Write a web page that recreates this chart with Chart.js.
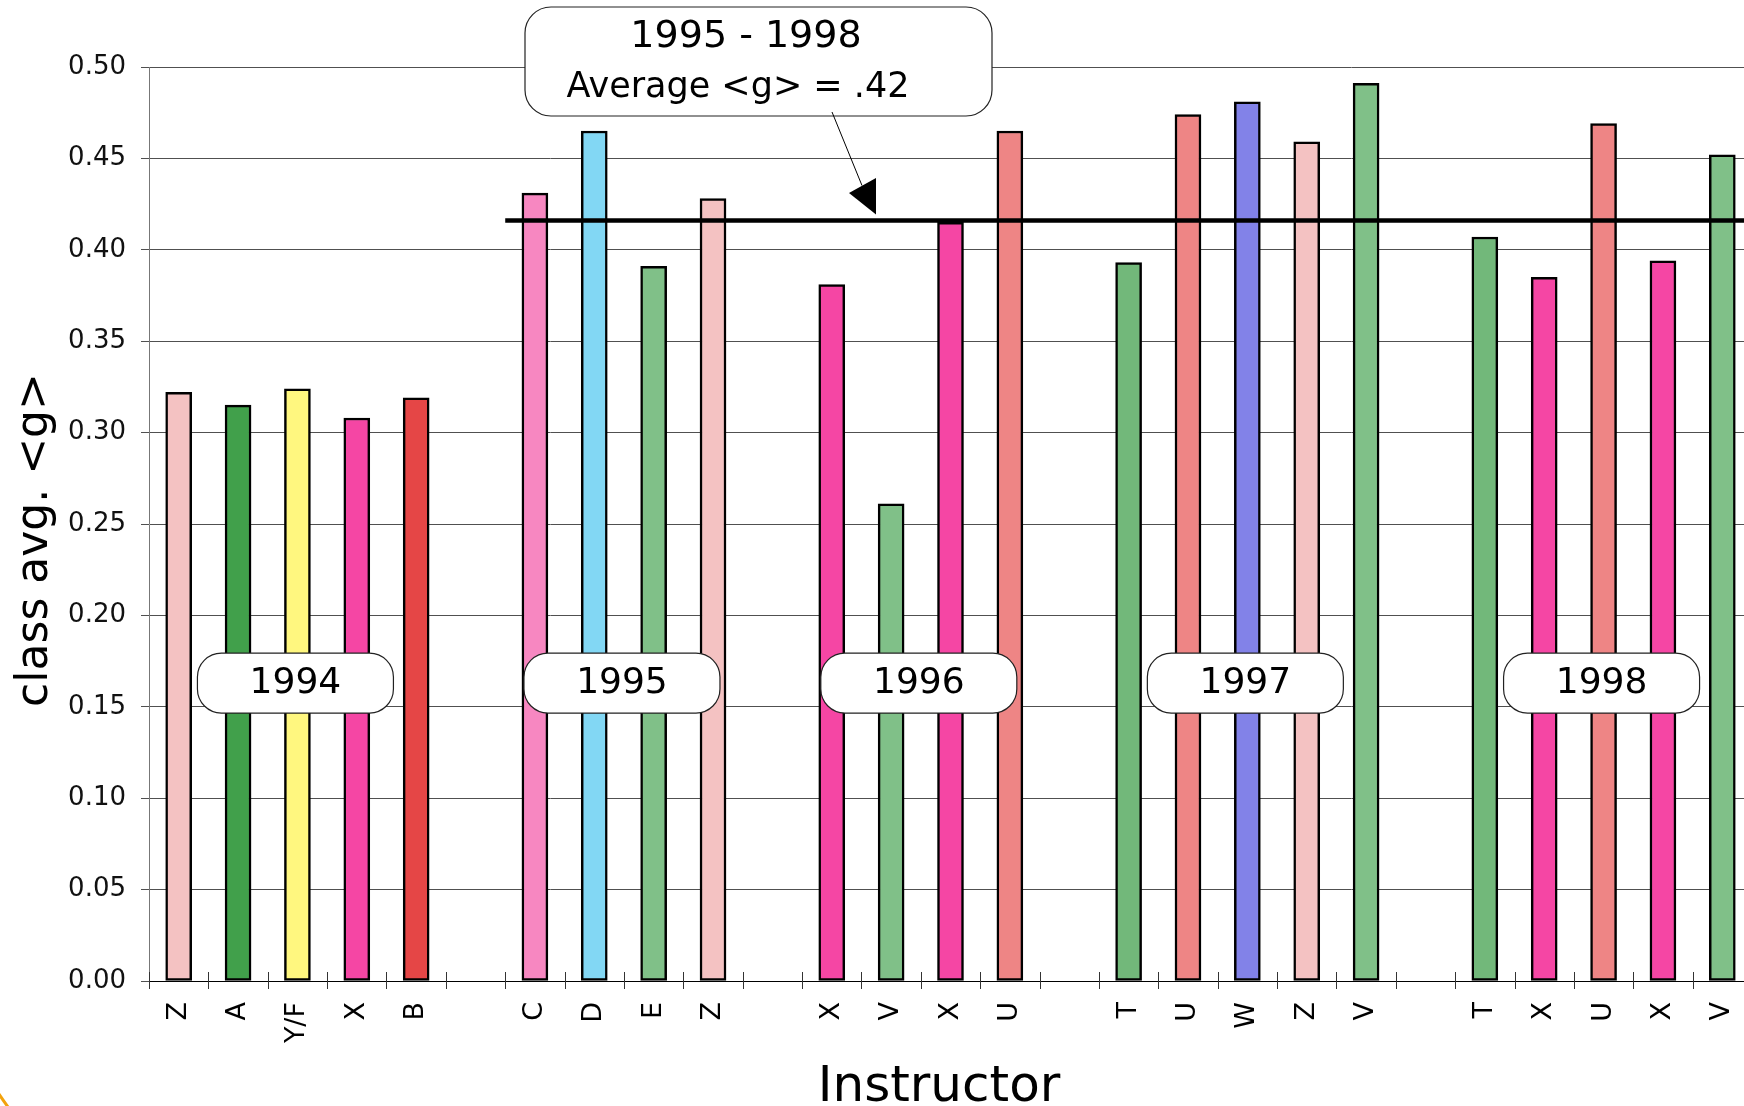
<!DOCTYPE html>
<html>
<head>
<meta charset="utf-8">
<title>Class average normalized gain by instructor</title>
<script src="https://cdn.jsdelivr.net/npm/chart.js@4.4.1/dist/chart.umd.min.js"></script>
<style>
  html, body { margin: 0; padding: 0; background: #fff; overflow: hidden; width: 1744px; height: 1106px; }
  #wrap { position: absolute; left: 0; top: 0; width: 1752px; height: 1106px; }
  canvas { display: block; }
</style>
</head>
<body>
<div id="wrap"><canvas id="gainChart" width="1752" height="1106"></canvas></div>
<script>
// Class-average normalized gain <g> for each instructor, grouped by year
const years = ['1994', '1995', '1996', '1997', '1998'];

const instructors1994 = ['Z', 'A', 'Y/F', 'X', 'B'];
const gain1994        = [0.322, 0.315, 0.324, 0.308, 0.319];

const instructors1995 = ['C', 'D', 'E', 'Z'];
const gain1995        = [0.431, 0.465, 0.391, 0.428];

const instructors1996 = ['X', 'V', 'X', 'U'];
const gain1996        = [0.381, 0.261, 0.415, 0.465];

const instructors1997 = ['T', 'U', 'W', 'Z', 'V'];
const gain1997        = [0.393, 0.474, 0.481, 0.459, 0.491];

const instructors1998 = ['T', 'X', 'U', 'X', 'V'];
const gain1998        = [0.407, 0.385, 0.469, 0.394, 0.452];

// y-axis tick values
const yTickValues = [0.00, 0.05, 0.10, 0.15, 0.20, 0.25, 0.30, 0.35, 0.40, 0.45, 0.50];

// overall average over the later years
const averageYears = ['1995', '1998'];
const averageGain = 0.416;

// one fill colour per instructor
const instructorColors = {
  'Z': '#F4C2C2', 'A': '#41A04B', 'Y/F': '#FFF77F', 'X': '#F546A4', 'B': '#E54646',
  'C': '#F787C1', 'D': '#82D7F4', 'E': '#80C088', 'V': '#80C088', 'U': '#EE8585',
  'T': '#72B87A', 'W': '#8282E8'
};

// build the category axis: each year group followed by an empty slot
const groups = [
  [instructors1994, gain1994], [instructors1995, gain1995], [instructors1996, gain1996],
  [instructors1997, gain1997], [instructors1998, gain1998]
];
const labels = [], values = [], colors = [], groupRanges = [];
groups.forEach(([names, gains], gi) => {
  const start = labels.length;
  names.forEach((n, i) => { labels.push(n); values.push(gains[i]); colors.push(instructorColors[n]); });
  groupRanges.push([start, labels.length - 1]);
  if (gi < groups.length - 1) { labels.push(''); values.push(null); colors.push('rgba(0,0,0,0)'); }
});

const FONT = "'DejaVu Sans', Verdana, sans-serif";

function roundBox(ctx, x, y, w, h, r) {
  ctx.beginPath();
  ctx.roundRect(x, y, w, h, r);
  ctx.fillStyle = '#fff';
  ctx.fill();
  ctx.lineWidth = 1.2;
  ctx.strokeStyle = '#222';
  ctx.stroke();
}

const decorations = {
  id: 'decorations',
  afterDatasetsDraw(chart) {
    const { ctx, chartArea, scales: { x, y } } = chart;
    ctx.save();

    // x-axis tick marks at category boundaries, crossing the axis line
    ctx.strokeStyle = '#333';
    ctx.lineWidth = 1;
    for (let i = 0; i <= labels.length; i++) {
      const px = Math.round(x.getPixelForValue(i - 0.5)) + 0.5;
      ctx.beginPath();
      ctx.moveTo(px, chartArea.bottom - 9);
      ctx.lineTo(px, chartArea.bottom + 8);
      ctx.stroke();
    }

    // average line, starting at the first 1995 category
    const yAvg = y.getPixelForValue(averageGain);
    const xAvgStart = x.getPixelForValue(groupRanges[1][0] - 0.5);
    ctx.strokeStyle = '#000';
    ctx.lineWidth = 4.5;
    ctx.beginPath();
    ctx.moveTo(xAvgStart, yAvg);
    ctx.lineTo(chartArea.right, yAvg);
    ctx.stroke();

    // year tags over each group
    const tagY = y.getPixelForValue(0.163);
    ctx.font = `36px ${FONT}`;
    ctx.textAlign = 'center';
    ctx.textBaseline = 'middle';
    groupRanges.forEach(([s, e], i) => {
      const cx = (x.getPixelForValue(s) + x.getPixelForValue(e)) / 2 - 2;
      roundBox(ctx, cx - 98, tagY - 30, 196, 60, 24);
      ctx.fillStyle = '#000';
      ctx.fillText(years[i], cx, tagY + 1);
    });

    // callout with the average value
    roundBox(ctx, 525, 7, 467, 109, 26);
    ctx.fillStyle = '#000';
    ctx.font = `38px ${FONT}`;
    ctx.fillText(averageYears.join(' - '), 746, 37);
    ctx.font = `35px ${FONT}`;
    ctx.fillText('Average <g> = ' + averageGain.toFixed(2).replace(/^0/, ''), 738, 88);

    // pointer from the callout down to the average line
    const tipX = 876, tipY = yAvg - 6;
    ctx.strokeStyle = '#000';
    ctx.lineWidth = 1;
    ctx.beginPath();
    ctx.moveTo(832, 112);
    ctx.lineTo(tipX - 14, tipY - 29);
    ctx.stroke();
    ctx.beginPath();
    ctx.moveTo(tipX, tipY);
    ctx.lineTo(tipX - 27, tipY - 21.5);
    ctx.lineTo(tipX, tipY - 36.5);
    ctx.closePath();
    ctx.fill();

    ctx.restore();
  },
  afterDraw(chart) {
    const { ctx } = chart;
    ctx.save();
    ctx.fillStyle = '#000';
    // y-axis title
    ctx.translate(36, 540);
    ctx.rotate(-Math.PI / 2);
    ctx.font = `44px ${FONT}`;
    ctx.textAlign = 'center';
    ctx.textBaseline = 'middle';
    ctx.fillText('class avg. <g>', 0, 0);
    ctx.restore();

    ctx.save();
    ctx.fillStyle = '#000';
    ctx.font = `50px ${FONT}`;
    ctx.textAlign = 'center';
    ctx.textBaseline = 'alphabetic';
    ctx.fillText('Instructor', 939, 1101);

    // corner ornament
    ctx.strokeStyle = '#F2A20C';
    ctx.lineWidth = 3;
    ctx.beginPath();
    ctx.moveTo(-1, 1094);
    ctx.quadraticCurveTo(3, 1100, 8, 1107);
    ctx.stroke();
    ctx.restore();
  }
};

new Chart(document.getElementById('gainChart'), {
  type: 'bar',
  data: {
    labels: labels,
    datasets: [{
      data: values,
      backgroundColor: colors,
      borderColor: '#000',
      borderWidth: 2.5,
      borderSkipped: false,
      barThickness: 26
    }]
  },
  options: {
    responsive: false,
    devicePixelRatio: 1,
    animation: false,
    events: [],
    layout: { padding: { top: 67, right: 0, bottom: 0, left: 0 } },
    plugins: { legend: { display: false }, tooltip: { enabled: false }, title: { display: false } },
    scales: {
      x: {
        offset: true,
        grid: { display: false, drawTicks: false },
        border: { display: true, color: '#000', width: 1 },
        ticks: {
          autoSkip: false, minRotation: 90, maxRotation: 90, padding: 21,
          color: '#000', font: { family: FONT, size: 27 }
        },
        afterFit(scale) { scale.height = 125; scale.paddingLeft = 0; scale.paddingRight = 0; }
      },
      y: {
        min: 0, max: 0.5,
        afterBuildTicks(scale) { scale.ticks = yTickValues.map(v => ({ value: v })); },
        grid: { color: '#505050', lineWidth: 1, tickLength: 8, drawTicks: true },
        border: { display: true, color: '#777', width: 1 },
        ticks: {
          padding: 15, color: '#111',
          font: { family: FONT, size: 26 },
          callback: (v) => Number(v).toFixed(2)
        },
        afterFit(scale) { scale.width = 149; scale.paddingTop = 0; scale.paddingBottom = 0; }
      }
    }
  },
  plugins: [decorations]
});
</script>
</body>
</html>
